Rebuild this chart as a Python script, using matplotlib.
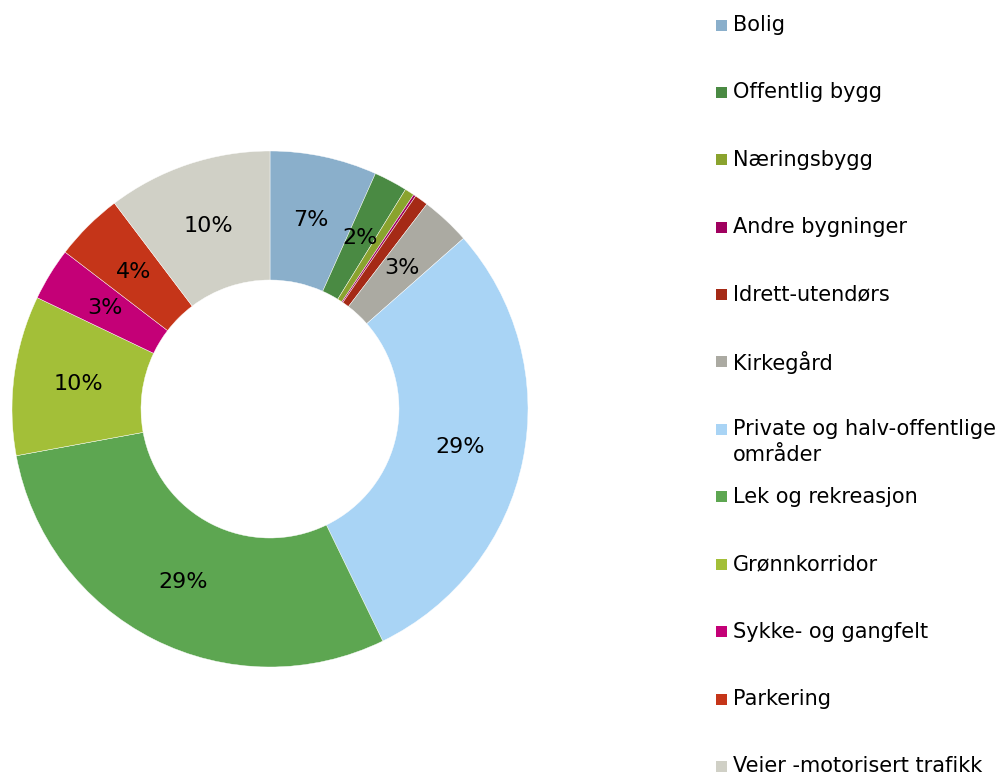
import matplotlib.pyplot as plt
from matplotlib.patches import Rectangle

# Arealfordeling (andel i prosent)
kategorier = [
    "Bolig", "Offentlig bygg", "Næringsbygg", "Andre bygninger",
    "Idrett-utendørs", "Kirkegård", "Private og halv-offentlige\nområder",
    "Lek og rekreasjon", "Grønnkorridor", "Sykke- og gangfelt",
    "Parkering", "Veier -motorisert trafikk",
]
andel = [6.7, 2.1, 0.6, 0.15, 0.85, 3.1, 29.3, 29.3, 10.0, 3.3, 4.3, 10.3]
farger = [
    "#8aafcb", "#4a8a43", "#8aa32e", "#a0005f", "#a52a16", "#abaaa2",
    "#a9d4f5", "#5da651", "#a3bf38", "#c40077", "#c53519", "#d0d0c6",
]

plt.rcParams['font.family'] = ['DejaVu Sans']

W, H = 1005, 774
fig = plt.figure(figsize=(W / 100, H / 100), dpi=100)

# sirkel: senter (270, 409), radius 258 px
cx, cy, r = 270, 409, 258
ax = fig.add_axes([(cx - r) / W, (H - cy - r) / H, 2 * r / W, 2 * r / H])


def pct(p):
    return f"{p:.0f}%" if p >= 1 else ""


wedges, texts, autotexts = ax.pie(
    andel, colors=farger, startangle=90, counterclock=False,
    radius=1, autopct=pct, pctdistance=0.75,
    wedgeprops=dict(width=0.5, edgecolor="white", linewidth=0.3),
    textprops=dict(fontsize=16, color="black"),
)
ax.set_xlim(-1, 1)
ax.set_ylim(-1, 1)
ax.set_aspect("equal")

# legende
y0, steg = 25, 67.4
for i, (navn, farge) in enumerate(zip(kategorier, farger)):
    y = y0 + i * steg
    fig.add_artist(Rectangle((716 / W, 1 - (y + 5.5) / H), 11 / W, 11 / H,
                             transform=fig.transFigure, facecolor=farge,
                             edgecolor="none"))
    for j, linje in enumerate(navn.split("\n")):
        fig.text(733 / W, 1 - (y + j * 26) / H, linje, fontsize=15,
                 va="center", ha="left", color="black")

fig.savefig("out.png", dpi=100)
